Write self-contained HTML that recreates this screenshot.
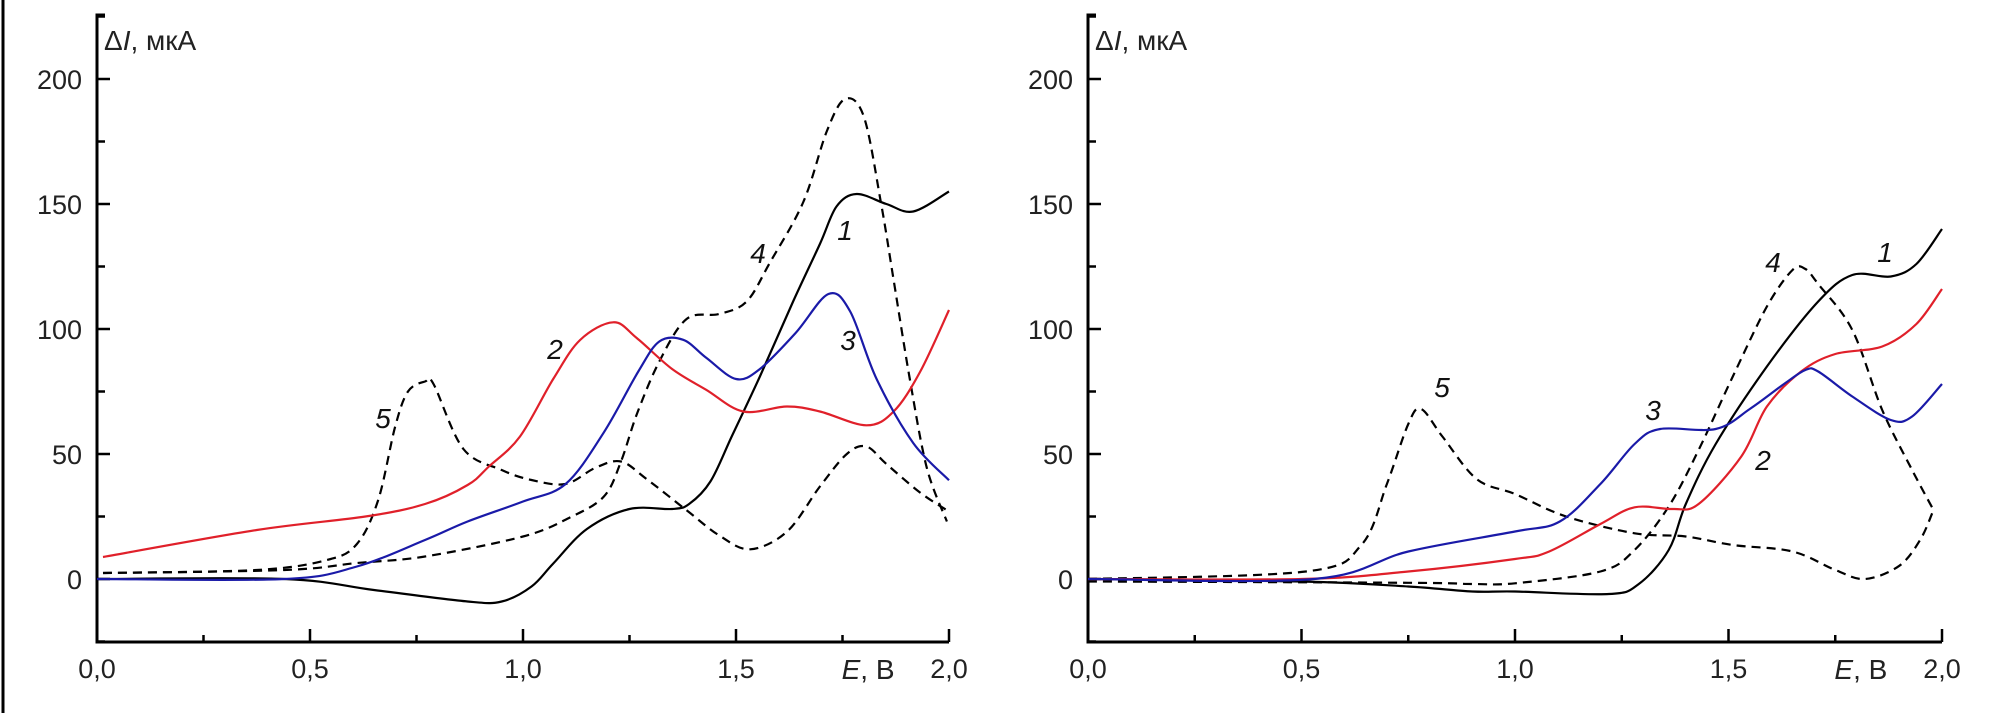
<!DOCTYPE html>
<html><head><meta charset="utf-8">
<style>
html,body{margin:0;padding:0;background:#fff;}
svg{display:block;font-family:"Liberation Sans","DejaVu Sans",sans-serif;}
</style></head>
<body>
<svg id="fig" width="1990" height="713" viewBox="0 0 1990 713" xmlns="http://www.w3.org/2000/svg">
<rect x="0" y="0" width="1990" height="713" fill="#fff"/>
<line x1="3" y1="0" x2="3" y2="713" stroke="#000" stroke-width="3"/>
<g id="left"></g>
<g id="right"></g>
</svg>
<script>
// ---------- data ----------
const xTicks = [0, 0.5, 1.0, 1.5, 2.0];
const xTickLabels = ["0,0", "0,5", "1,0", "1,5", "2,0"];
const yTicks = [0, 50, 100, 150, 200];
const yTickLabels = ["0", "50", "100", "150", "200"];

// Left chart
const L1x = [0, 0.44, 0.65, 0.87, 0.95, 1.02, 1.07, 1.15, 1.25, 1.35, 1.39, 1.44, 1.49, 1.556, 1.634, 1.697, 1.736, 1.783, 1.853, 1.916, 2.0];
const L1y = [0, 0, -4.4, -9, -9, -3, 6, 20, 28, 28, 30, 39, 57, 81, 111, 134, 149, 154, 150, 147, 155];
const L2x = [0.014, 0.375, 0.63, 0.77, 0.87, 0.92, 0.993, 1.071, 1.134, 1.212, 1.267, 1.35, 1.43, 1.517, 1.62, 1.697, 1.806, 1.87, 1.932, 2.0];
const L2y = [8.8, 19.6, 25, 30, 37.6, 45, 57, 80, 95.6, 102.7, 96.4, 84, 75.7, 67, 69, 67, 61.5, 67, 82.8, 107.6];
const L3x = [0, 0.44, 0.61, 0.77, 0.87, 1.0, 1.10, 1.19, 1.27, 1.32, 1.376, 1.43, 1.5, 1.556, 1.64, 1.717, 1.768, 1.83, 1.916, 2.0];
const L3y = [0, 0, 5, 15.6, 23, 31, 38, 58.7, 82.8, 95, 95.7, 88.5, 80, 84, 98.4, 114, 107, 80, 54.4, 39.5];
const L4x = [0.014, 0.44, 0.61, 0.77, 1.0, 1.11, 1.19, 1.23, 1.267, 1.32, 1.384, 1.46, 1.525, 1.58, 1.658, 1.713, 1.756, 1.8, 1.84, 1.87, 1.908, 1.948, 1.995];
const L4y = [2.4, 3.6, 6.4, 9, 17, 24.6, 33, 47, 65.8, 87, 104, 106, 111, 126.7, 150.8, 179, 192, 185, 150.8, 119.7, 80, 44.5, 23];
const L5x = [0.014, 0.375, 0.54, 0.61, 0.66, 0.70, 0.73, 0.77, 0.79, 0.86, 0.95, 1.02, 1.10, 1.17, 1.23, 1.29, 1.384, 1.46, 1.533, 1.62, 1.697, 1.76, 1.806, 1.853, 1.932, 1.995];
const L5y = [2.4, 3.6, 7.6, 14, 31.6, 61, 75, 79, 78, 52, 43.6, 39.6, 38, 44.5, 47, 40, 27.5, 17.5, 11.9, 19, 37, 50, 53, 46, 34.6, 27.5];

// Right chart
const R1x = [0, 0.5, 0.75, 0.9, 1.0, 1.22, 1.29, 1.36, 1.40, 1.47, 1.59, 1.71, 1.79, 1.88, 1.94, 2.0];
const R1y = [0, -1, -3, -5, -5, -6, -2, 11.6, 30, 54, 85, 111, 121.6, 121, 126, 140];
const R2x = [0, 0.5, 0.75, 1.0, 1.08, 1.2, 1.28, 1.37, 1.43, 1.53, 1.59, 1.67, 1.75, 1.86, 1.94, 2.0];
const R2y = [0, 0, 3, 8, 11, 22, 28.7, 28, 30, 49, 69, 83, 90, 93, 102, 116];
const R3x = [0, 0.53, 0.75, 1.0, 1.105, 1.2, 1.28, 1.34, 1.47, 1.55, 1.63, 1.68, 1.71, 1.79, 1.88, 1.93, 2.0];
const R3y = [0, 0, 11, 19, 23, 38, 54, 60, 60, 68, 78, 83.6, 83, 73, 63.6, 65, 78];
const R4x = [0, 0.75, 0.9, 1.0, 1.2, 1.28, 1.36, 1.43, 1.51, 1.59, 1.65, 1.68, 1.71, 1.79, 1.86, 1.93, 1.98];
const R4y = [-1, -1.5, -2, -1.7, 3, 11.6, 29, 51.6, 81, 109, 123.6, 124, 118, 99.6, 67.6, 43.6, 27.6];
const R5x = [0, 0.51, 0.64, 0.70, 0.75, 0.78, 0.83, 0.91, 1.0, 1.12, 1.28, 1.40, 1.51, 1.65, 1.75, 1.82, 1.90, 1.95, 1.98];
const R5y = [0, 3, 13.6, 38, 62, 68, 57, 40, 34, 25, 18.3, 17, 13.6, 11, 3.6, 0, 5.3, 16, 27.6];

// ---------- drawing ----------
const NS = "http://www.w3.org/2000/svg";
function mk(tag, attrs, parent){
  const e = document.createElementNS(NS, tag);
  for (const k in attrs) e.setAttribute(k, attrs[k]);
  parent.appendChild(e);
  return e;
}
function smoothPath(px, py){
  let d = "M" + px[0].toFixed(1) + "," + py[0].toFixed(1);
  for (let i = 0; i < px.length - 1; i++){
    const x0 = px[Math.max(i-1,0)], y0 = py[Math.max(i-1,0)];
    const x1 = px[i], y1 = py[i], x2 = px[i+1], y2 = py[i+1];
    const x3 = px[Math.min(i+2,px.length-1)], y3 = py[Math.min(i+2,px.length-1)];
    const c1x = x1 + (x2-x0)/6, c1y = y1 + (y2-y0)/6;
    const c2x = x2 - (x3-x1)/6, c2y = y2 - (y3-y1)/6;
    d += " C" + c1x.toFixed(1)+","+c1y.toFixed(1)+" "+c2x.toFixed(1)+","+c2y.toFixed(1)+" "+x2.toFixed(1)+","+y2.toFixed(1);
  }
  return d;
}
function drawChart(g, x0, x2, series, labels){
  const X = v => x0 + (x2 - x0) * v / 2.0;
  const Y = v => 579 - 2.5 * v;
  const axTop = 15, axBot = 642;
  // axes
  const yAxis = mk("path", {d:"M"+(x0+8)+","+axTop+" L"+x0+","+axTop+" L"+x0+","+axBot+" L"+x2+","+axBot, fill:"none", stroke:"#000", "stroke-width":3}, g);
  
  
  // y ticks
  for (let v = -25; v <= 225; v += 25){
    const major = v % 50 === 0;
    const t = mk("line", {x1:x0, x2:x0 + (major?13:8), y1:Y(v), y2:Y(v), stroke:"#000", "stroke-width":2.5}, g);
    
    
  }
  yTicks.forEach((v, i) => {
    const t = mk("text", {x:x0-15, y:Y(v)+10, "text-anchor":"end", "font-size":27, fill:"#222"}, g);
    t.textContent = yTickLabels[i];
    
    
  });
  // x ticks
  for (let v = 0.25; v <= 2.0001; v += 0.25){
    const major = Math.abs(v*2 - Math.round(v*2)) < 1e-6;
    const t = mk("line", {x1:X(v), x2:X(v), y1:axBot, y2:axBot - (major?13:7), stroke:"#000", "stroke-width":2.5}, g);
    
    
  }
  xTicks.forEach((v, i) => {
    const t = mk("text", {x:X(v), y:678, "text-anchor":"middle", "font-size":27, fill:"#222"}, g);
    t.textContent = xTickLabels[i];
    
    
  });
  // axis titles
  const yt = mk("text", {x:x0+7, y:50, "font-size":28, fill:"#222"}, g);
  yt.innerHTML = '\u0394<tspan font-style="italic">I</tspan>, мкА';
  
  
  const xt = mk("text", {x:X(1.81), y:679, "text-anchor":"middle", "font-size":28, fill:"#222"}, g);
  xt.innerHTML = '<tspan font-style="italic">E</tspan>, В';
  
  
  // series
  series.forEach(s => {
    const p = mk("path", {d:smoothPath(s.x.map(X), s.y.map(Y)), fill:"none", stroke:s.c, "stroke-width":2.2, "stroke-linejoin":"round"}, g);
    if (s.dash) p.setAttribute("stroke-dasharray", "9 6");
    
    
  });
  labels.forEach(l => {
    const t = mk("text", {x:l.x, y:l.y, "text-anchor":"middle", "font-size":28, "font-style":"italic", fill:"#111"}, g);
    t.textContent = l.t;
    
    
  });
}
drawChart(document.getElementById("left"), 97, 949, [
  {x:L5x, y:L5y, c:"#000", dash:true, name:"left-curve-5"},
  {x:L4x, y:L4y, c:"#000", dash:true, name:"left-curve-4"},
  {x:L1x, y:L1y, c:"#000", name:"left-curve-1"},
  {x:L2x, y:L2y, c:"#e0202a", name:"left-curve-2"},
  {x:L3x, y:L3y, c:"#1a1aa8", name:"left-curve-3"}
], [
  {t:"5", x:383, y:428}, {t:"2", x:555, y:359}, {t:"4", x:758, y:263}, {t:"1", x:845, y:240}, {t:"3", x:848, y:350}
]);
drawChart(document.getElementById("right"), 1088, 1942, [
  {x:R5x, y:R5y, c:"#000", dash:true, name:"right-curve-5"},
  {x:R4x, y:R4y, c:"#000", dash:true, name:"right-curve-4"},
  {x:R1x, y:R1y, c:"#000", name:"right-curve-1"},
  {x:R2x, y:R2y, c:"#e0202a", name:"right-curve-2"},
  {x:R3x, y:R3y, c:"#1a1aa8", name:"right-curve-3"}
], [
  {t:"5", x:1442, y:397}, {t:"3", x:1653, y:420}, {t:"4", x:1773, y:272}, {t:"1", x:1885, y:262}, {t:"2", x:1763, y:470}
]);
</script>
</body></html>
